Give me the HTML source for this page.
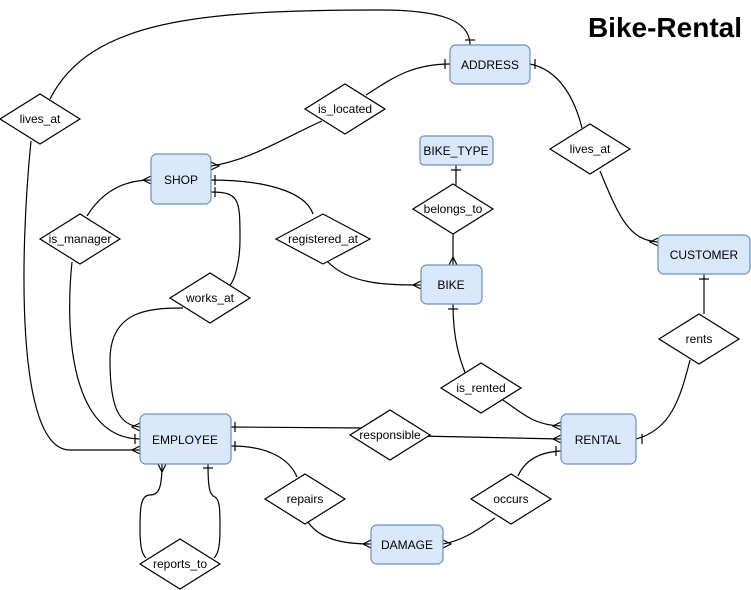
<!DOCTYPE html>
<html><head><style>
body{margin:0;background:#fff;}
svg{display:block;font-family:"Liberation Sans",sans-serif;}
</style></head><body>
<svg width="751" height="590" viewBox="0 0 751 590" xmlns="http://www.w3.org/2000/svg">
<g fill="none" stroke="#000" stroke-width="1.2">
<path d="M50 99 C90 20 200 10 380 10 C440 10 470 20 470 45"/>
<path d="M465 40 L475 40"/>
<path d="M31 141 C20 250 15 450 70 450 L140 450"/>
<path d="M140 446 L132 450 L140 454"/>
<path d="M322 121 C280 140 250 160 211 166"/>
<path d="M211 162 L219 166 L211 170"/>
<path d="M366 95 C390 80 410 64 450 64"/>
<path d="M445 59 L445 69"/>
<path d="M530 64 C560 70 575 100 582 128"/>
<path d="M535 59 L535 69"/>
<path d="M600 171 C620 220 630 240 658 242"/>
<path d="M658 238 L650 242 L658 246"/>
<path d="M456 165 L456 185"/><path d="M451 170 L461 170"/>
<path d="M453 234 L453 265"/><path d="M449 265 L453 257 L457 265"/>
<path d="M87 216 C100 195 120 180 151 180"/>
<path d="M151 176 L143 180 L151 184"/>
<path d="M72 262 C65 330 70 438 140 439"/>
<path d="M135 434 L135 444"/>
<path d="M211 180 C260 180 305 190 313 214"/>
<path d="M215 175 L215 185"/>
<path d="M328 262 C350 285 390 285 421 285"/>
<path d="M421 281 L413 285 L421 289"/>
<path d="M211 192 C240 192 240 200 240 240 C240 260 235 280 230 285"/>
<path d="M215 187 L215 197"/>
<path d="M183 308 C150 308 110 310 110 360 C110 410 120 425 140 427"/>
<path d="M140 423 L132 427 L140 431"/>
<path d="M231 427 L362 428"/><path d="M235 422 L235 432"/>
<path d="M418 436 L561 439"/><path d="M561 435 L553 439 L561 443"/>
<path d="M453 304 C453 340 460 360 466 375"/><path d="M448 309 L458 309"/>
<path d="M495 395 C520 410 530 425 561 426"/><path d="M561 422 L553 426 L561 430"/>
<path d="M704 274 L704 314"/><path d="M699 279 L709 279"/>
<path d="M690 360 C680 400 670 430 636 439"/><path d="M642 434 L642 444"/>
<path d="M231 446 C270 446 290 460 297 477"/><path d="M235 441 L235 451"/>
<path d="M308 522 C320 540 345 544 371 544"/><path d="M371 540 L363 544 L371 548"/>
<path d="M443 544 C465 540 480 528 495 518"/><path d="M443 540 L451 544 L443 548"/>
<path d="M518 476 C525 460 540 452 561 451"/><path d="M556 446 L556 456"/>
<path d="M162 464 C162 490 158 495 150 495 C140 495 140 510 140 530 C140 550 143 555 146 558"/>
<path d="M158 464 L162 472 L166 464"/>
<path d="M208 464 C208 490 210 495 215 497 C220 500 220 510 220 530 C220 550 217 555 214 558"/>
<path d="M203 468 L213 468"/>
</g>
<g fill="#dae8fc" stroke="#6c8ebf" stroke-width="1.2">
<rect x="450" y="45" width="80" height="39" rx="6"/>
<rect x="151" y="154" width="60" height="50" rx="6"/>
<rect x="420" y="136" width="73" height="29" rx="4"/>
<rect x="421" y="265" width="61" height="39" rx="6"/>
<rect x="658" y="235" width="92" height="39" rx="6"/>
<rect x="140" y="414" width="91" height="50" rx="6"/>
<rect x="561" y="414" width="75" height="50" rx="6"/>
<rect x="371" y="525" width="72" height="39" rx="6"/>
</g>
<g fill="#fff" stroke="#000" stroke-width="1.2">
<polygon points="0,119 40,94 80,119 40,144"/>
<polygon points="305,109 345,84 385,109 345,134"/>
<polygon points="550,149 590,124 630,149 590,174"/>
<polygon points="413,209 453,184 493,209 453,234"/>
<polygon points="40,239 80,214 120,239 80,264"/>
<polygon points="276,239 323,214 370,239 323,264"/>
<polygon points="170,298 210,273 250,298 210,323"/>
<polygon points="659,339 699,314 739,339 699,364"/>
<polygon points="441,388 481,363 521,388 481,413"/>
<polygon points="350,435 390,410 430,435 390,460"/>
<polygon points="265,499 305,474 345,499 305,524"/>
<polygon points="471,499 511,474 551,499 511,524"/>
<polygon points="140,564 180,539 220,564 180,589"/>
</g>
<g font-size="12" text-anchor="middle" fill="#000">
<text x="490" y="69">ADDRESS</text>
<text x="181" y="184">SHOP</text>
<text x="456" y="155">BIKE_TYPE</text>
<text x="451" y="289">BIKE</text>
<text x="704" y="259">CUSTOMER</text>
<text x="185" y="444">EMPLOYEE</text>
<text x="598" y="444">RENTAL</text>
<text x="407" y="549">DAMAGE</text>
<text x="40" y="123">lives_at</text>
<text x="345" y="113">is_located</text>
<text x="590" y="153">lives_at</text>
<text x="453" y="213">belongs_to</text>
<text x="80" y="243">is_manager</text>
<text x="323" y="243">registered_at</text>
<text x="210" y="302">works_at</text>
<text x="699" y="343">rents</text>
<text x="481" y="392">is_rented</text>
<text x="390" y="439">responsible</text>
<text x="305" y="503">repairs</text>
<text x="511" y="503">occurs</text>
<text x="180" y="568">reports_to</text>
</g>
<text x="742" y="37" font-size="28" font-weight="bold" text-anchor="end">Bike-Rental</text>
</svg>
</body></html>
